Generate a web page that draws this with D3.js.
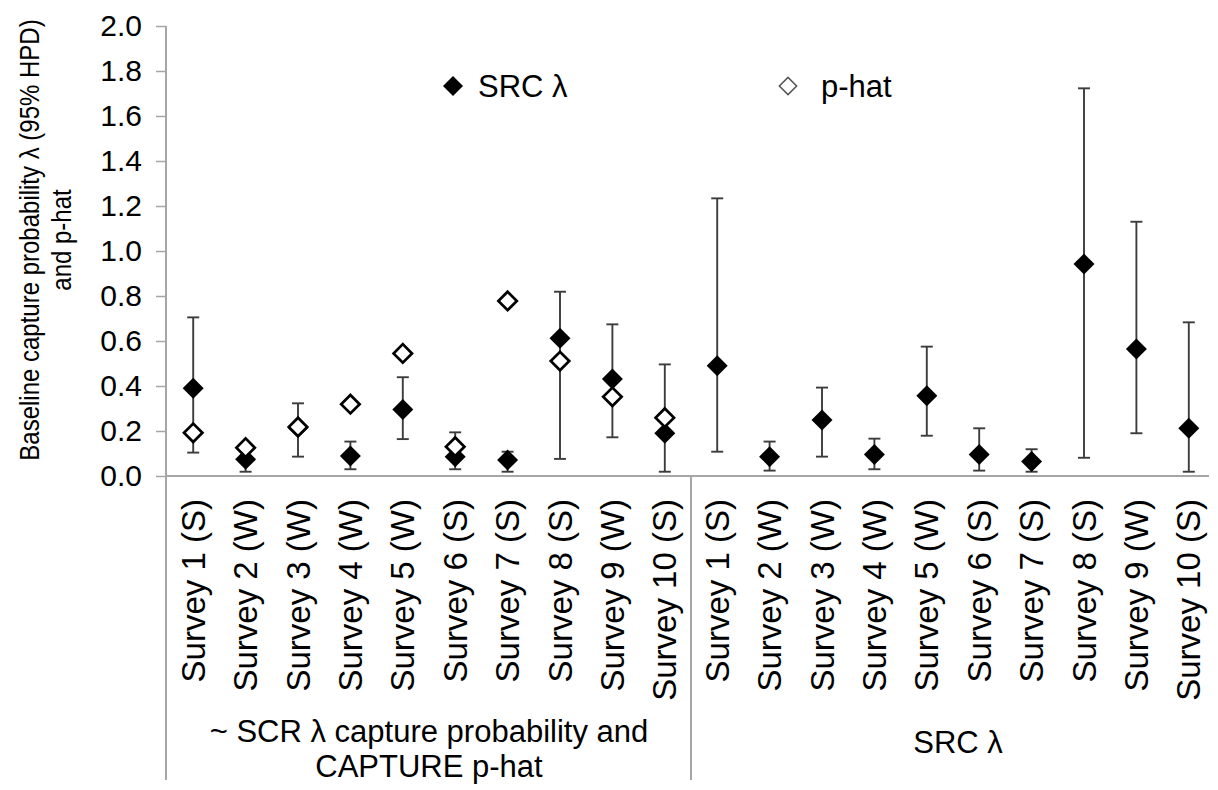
<!DOCTYPE html>
<html>
<head>
<meta charset="utf-8">
<script src="https://cdn.jsdelivr.net/npm/d3@7/dist/d3.min.js"></script>
<style>
  html, body { margin: 0; padding: 0; background: #fff; }
  svg { display: block; font-family: "Liberation Sans", Arial, sans-serif; }
</style>
</head>
<body>
<svg id="chart" width="1218" height="790"></svg>
<script>
// ---- data ----
const surveys = ["Survey 1 (S)", "Survey 2 (W)", "Survey 3 (W)", "Survey 4 (W)", "Survey 5 (W)",
                 "Survey 6 (S)", "Survey 7 (S)", "Survey 8 (S)", "Survey 9 (W)", "Survey 10 (S)"];
const groups = ["~ SCR λ capture probability and|CAPTURE p-hat", "SRC λ"];
// group 1: SCR λ with 95% HPD + CAPTURE p-hat
const g1Lambda = [0.39, 0.074, 0.215, 0.089, 0.296, 0.086, 0.071, 0.612, 0.431, 0.190];
const g1Lower  = [0.104, 0.019, 0.086, 0.030, 0.164, 0.030, 0.019, 0.076, 0.172, 0.019];
const g1Upper  = [0.705, 0.125, 0.323, 0.153, 0.439, 0.194, 0.108, 0.819, 0.674, 0.496];
const g1Phat   = [0.192, 0.126, 0.218, 0.319, 0.545, 0.130, 0.778, 0.511, 0.352, 0.259];
// group 2: SRC λ with 95% HPD
const g2Lambda = [0.490, 0.086, 0.249, 0.096, 0.357, 0.096, 0.064, 0.942, 0.564, 0.212];
const g2Lower  = [0.108, 0.024, 0.086, 0.030, 0.179, 0.024, 0.019, 0.081, 0.190, 0.019];
const g2Upper  = [1.234, 0.153, 0.393, 0.166, 0.575, 0.212, 0.119, 1.723, 1.130, 0.683];
const yTicks = [0, 0.2, 0.4, 0.6, 0.8, 1.0, 1.2, 1.4, 1.6, 1.8, 2.0];
const legendLabels = ["SRC λ", "p-hat"];
const yTitle = ["Baseline capture probability λ (95% HPD)", "and p-hat"];

// ---- build rows ----
const rows = [];
surveys.forEach((s, i) => rows.push({id: "g1-" + i, label: s, group: 0, lam: g1Lambda[i], lo: g1Lower[i], hi: g1Upper[i], phat: g1Phat[i]}));
surveys.forEach((s, i) => rows.push({id: "g2-" + i, label: s, group: 1, lam: g2Lambda[i], lo: g2Lower[i], hi: g2Upper[i], phat: null}));

const svg = d3.select("#chart");
const x = d3.scaleBand().domain(rows.map(d => d.id)).range([167, 1215]).padding(0);
const y = d3.scaleLinear().domain([0, 2]).range([476, 26]);
const cx = d => x(d.id) + x.bandwidth() / 2;

const axisColor = "#a6a6a6";

// y axis
const yAxis = d3.axisLeft(y).tickValues(yTicks).tickFormat(d3.format(".1f")).tickSize(10).tickPadding(14);
const gy = svg.append("g").attr("transform", "translate(166,0)").call(yAxis);
gy.select(".domain").remove();
gy.selectAll(".tick line").attr("stroke", axisColor).attr("stroke-width", 1.5);
gy.selectAll(".tick text").attr("font-size", 30).attr("fill", "#000")
  .attr("font-family", "Liberation Sans, Arial, sans-serif");

// left axis line (extends through category area)
svg.append("line").attr("x1", 166).attr("x2", 166).attr("y1", y(2)).attr("y2", 780)
  .attr("stroke", axisColor).attr("stroke-width", 2);
// x axis baseline
svg.append("line").attr("x1", 166).attr("x2", 1209).attr("y1", y(0)).attr("y2", y(0))
  .attr("stroke", axisColor).attr("stroke-width", 2);
// group divider
const divX = x("g2-0");
svg.append("line").attr("x1", divX).attr("x2", divX).attr("y1", y(0)).attr("y2", 780)
  .attr("stroke", axisColor).attr("stroke-width", 2);

// category labels
svg.append("g").selectAll("text").data(rows).join("text")
  .attr("transform", d => `translate(${cx(d)},499) rotate(-90)`)
  .attr("dy", "0.35em")
  .attr("text-anchor", "end")
  .attr("font-size", 33)
  .text(d => d.label);

// group labels
const g1c = (x("g1-0") + x("g2-0")) / 2;
const g1Lines = groups[0].split("|");
svg.append("text").attr("x", g1c).attr("y", 742).attr("text-anchor", "middle").attr("font-size", 31)
  .selectAll("tspan").data(g1Lines).join("tspan")
  .attr("x", g1c).attr("dy", (d, i) => i === 0 ? 0 : 35).text(d => d);
svg.append("text").attr("x", 958).attr("y", 753).attr("text-anchor", "middle").attr("font-size", 31)
  .text(groups[1]);

// y title
svg.append("text").attr("transform", "translate(39,240) scale(1.18,1) rotate(-90)")
  .attr("text-anchor", "middle").attr("font-size", 24)
  .selectAll("tspan").data(yTitle).join("tspan")
  .attr("x", 0).attr("dy", (d, i) => i === 0 ? 0 : 27).text(d => d);

// error bars
const errColor = "#3c3c3c";
const eb = svg.append("g");
eb.selectAll("line.v").data(rows).join("line").attr("class", "v")
  .attr("x1", cx).attr("x2", cx).attr("y1", d => y(d.lo)).attr("y2", d => y(d.hi))
  .attr("stroke", errColor).attr("stroke-width", 1.9);
["lo", "hi"].forEach(k => {
  eb.selectAll("line.c" + k).data(rows).join("line").attr("class", "c" + k)
    .attr("x1", d => cx(d) - 6).attr("x2", d => cx(d) + 6)
    .attr("y1", d => y(d[k])).attr("y2", d => y(d[k]))
    .attr("stroke", errColor).attr("stroke-width", 1.9);
});

// markers
const filledSym = d3.symbol(d3.symbolSquare, 220);
const openSym = d3.symbol(d3.symbolSquare, 170);
svg.append("g").selectAll("path").data(rows).join("path")
  .attr("d", filledSym)
  .attr("transform", d => `translate(${cx(d)},${y(d.lam)}) rotate(45)`)
  .attr("fill", "#000");
svg.append("g").selectAll("path").data(rows.filter(d => d.phat !== null)).join("path")
  .attr("d", openSym)
  .attr("transform", d => `translate(${cx(d)},${y(d.phat)}) rotate(45)`)
  .attr("fill", "#fff").attr("stroke", "#000").attr("stroke-width", 2.7);

// legend
const lg = svg.append("g");
lg.append("path").attr("d", d3.symbol(d3.symbolSquare, 200))
  .attr("transform", "translate(453,86) rotate(45)").attr("fill", "#000");
lg.append("text").attr("x", 478).attr("y", 97).attr("font-size", 31).text(legendLabels[0]);
lg.append("path").attr("d", d3.symbol(d3.symbolSquare, 150))
  .attr("transform", "translate(788,86) rotate(45)").attr("fill", "#fff")
  .attr("stroke", "#555").attr("stroke-width", 1.5);
lg.append("text").attr("x", 821).attr("y", 97).attr("font-size", 31).text(legendLabels[1]);
</script>
</body>
</html>
